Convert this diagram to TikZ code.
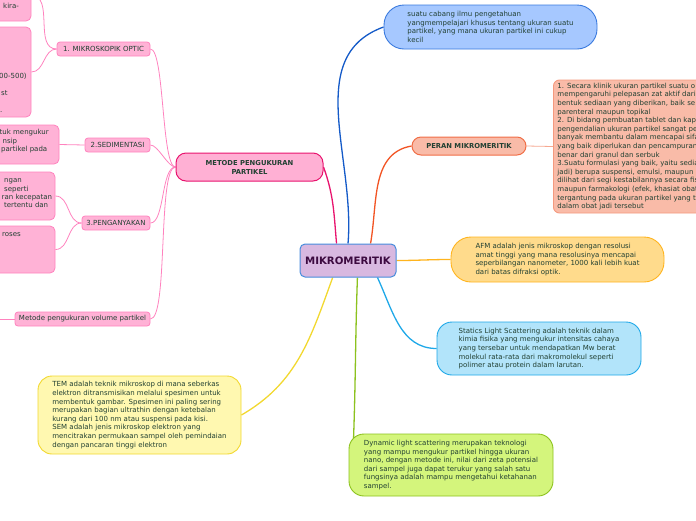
\documentclass[tikz,border=0pt]{standalone}
\usepackage{fontspec}
\setmainfont{DejaVu Sans}
\usepackage{tikz}
\usetikzlibrary{backgrounds,calc}
\definecolor{inkgreen}{RGB}{33,64,50}
\definecolor{mikfill}{RGB}{216,184,224}
\definecolor{mikedge}{RGB}{70,140,220}
\definecolor{mikink}{RGB}{60,10,64}
\definecolor{metodefill}{RGB}{255,176,212}
\definecolor{metodeedge}{RGB}{232,20,110}
\definecolor{pinkfill}{RGB}{255,178,214}
\definecolor{pinkedge}{RGB}{255,130,190}
\definecolor{bluefill}{RGB}{166,200,255}
\definecolor{blueedge}{RGB}{58,122,222}
\definecolor{blueline}{RGB}{20,90,200}
\definecolor{peranfill}{RGB}{249,187,168}
\definecolor{peranedge}{RGB}{240,110,70}
\definecolor{peranline}{RGB}{242,84,36}
\definecolor{afmfill}{RGB}{255,219,140}
\definecolor{afmedge}{RGB}{255,180,30}
\definecolor{slsfill}{RGB}{178,228,250}
\definecolor{slsedge}{RGB}{30,168,232}
\definecolor{dlsfill}{RGB}{212,245,124}
\definecolor{dlsedge}{RGB}{140,194,30}
\definecolor{temfill}{RGB}{255,248,176}
\definecolor{temedge}{RGB}{242,216,48}

\begin{document}
\begin{tikzpicture}[x=1pt, y=1pt,
    every node/.style={font=\fontsize{7}{8.6}\selectfont, text=inkgreen},
    pinkbox/.style={draw=pinkedge, fill=pinkfill, line width=0.8pt, rounded corners=3pt, inner sep=0pt},
    leafbox/.style={pinkbox, rounded corners=5pt},
    notebox/.style={line width=0.9pt, align=left, inner sep=2pt},
    cut/.style={anchor=base west, inner sep=0pt},
    twig/.style={draw=pinkedge, line width=0.8pt},
    branch/.style={line width=1.3pt}]
    \useasboundingbox (0,0) rectangle (696,-520);
    \clip (0,0) rectangle (696,-520);

    % centre
    \node[draw=mikedge, fill=mikfill, line width=1pt, rounded corners=5pt, minimum width=96pt, minimum height=33pt,
          font=\bfseries\fontsize{10.2}{12}\selectfont, text=mikink] (mik) at (348,-260.5) {MIKROMERITIK};

    % metode branch
    \node[draw=metodeedge, fill=metodefill, line width=1pt, rounded corners=10pt, minimum width=147pt, minimum height=28pt,
          align=center, font=\bfseries\fontsize{6.8}{9}\selectfont] (metode) at (249.5,-167) {METODE PENGUKURAN\\PARTIKEL};
    \node[pinkbox, minimum width=93pt, minimum height=14pt] (optic) at (103.5,-49) {1. MIKROSKOPIK OPTIC};
    \node[pinkbox, minimum width=65pt, minimum height=14pt] (sedimentasi) at (117.5,-145) {2.SEDIMENTASI};
    \node[pinkbox, minimum width=68pt, minimum height=14pt] (penganyakan) at (116,-223) {3.PENGANYAKAN};
    \node[pinkbox, minimum width=135pt, minimum height=14pt] (volume) at (82.5,-319) {Metode pengukuran volume partikel};

    % leaves cut by the left edge
    \node[leafbox, minimum width=71pt, minimum height=51pt] (boxA) at (-4.5,4.5) {};
    \node[leafbox, minimum width=71pt, minimum height=90pt] (boxB) at (-4.5,-72) {};
    \node[leafbox, minimum width=99pt, minimum height=39pt] (boxC) at (9.5,-144.5) {};
    \node[leafbox, minimum width=95pt, minimum height=48pt] (boxD) at (7.5,-196) {};
    \node[leafbox, minimum width=95pt, minimum height=47pt] (boxE) at (7.5,-249.5) {};
    \node[cut] (textA) at (3,-8) {kira-};
    \node[cut] (textB1) at (-1,-78.5) {00-500)};
    \node[cut] (textB2) at (1,-95.5) {st};
    \node[cut] (textB3) at (0,-112) {.};
    \node[cut] (textC1) at (-0.5,-134.5) {tuk mengukur};
    \node[cut] (textC2) at (2.5,-143.5) {nsip};
    \node[cut] (textC3) at (1,-151.5) {partikel pada};
    \node[cut] (textD1) at (4,-182.5) {ngan};
    \node[cut] (textD2) at (4,-191.5) {seperti};
    \node[cut] (textD3) at (1.5,-199.5) {ran kecepatan};
    \node[cut] (textD4) at (4,-207.5) {tertentu dan};
    \node[cut] (textE1) at (2,-236.5) {roses};
    \coordinate (volumeend) at (-10,-319);

    % other branches
    \node[notebox, draw=blueedge, fill=bluefill, rounded corners=20pt, minimum width=213pt, minimum height=44pt] (ilmu) at (490.5,-27) {
        suatu cabang ilmu pengetahuan\\
        yangmempelajari khusus tentang ukuran suatu\\
        partikel, yang mana ukuran partikel ini cukup\\
        kecil};
    \node[draw=peranedge, fill=peranfill, line width=1pt, rounded corners=9pt, minimum width=114pt, minimum height=18pt,
          font=\bfseries\fontsize{6.8}{8}\selectfont] (peran) at (469,-146) {PERAN MIKROMERITIK};
    \node[notebox, draw=peranedge!70, fill=peranfill, rounded corners=6pt, anchor=west, minimum height=133pt, inner xsep=4pt] (peranbox) at (553,-146.5) {
        1. Secara klinik ukuran partikel suatu o\\
        mempengaruhi pelepasan zat aktif dari\\
        bentuk sediaan yang diberikan, baik se\\
        parenteral maupun topikal\\
        2. Di bidang pembuatan tablet dan kaps\\
        pengendalian ukuran partikel sangat pe\\
        banyak membantu dalam mencapai sifa\\
        yang baik diperlukan dan pencampuran\\
        benar dari granul dan serbuk\\
        3.Suatu formulasi yang baik, yaitu sedia\\
        jadi) berupa suspensi, emulsi, maupun\\
        dilihat dari segi kestabilannya secara fis\\
        maupun farmakologi (efek, khasiat obat\\
        tergantung pada ukuran partikel yang t\\
        dalam obat jadi tersebut};
    \node[notebox, draw=afmedge, fill=afmfill, rounded corners=20pt, minimum width=213pt, minimum height=45pt] (afm) at (557.5,-259.5) {
        AFM adalah jenis mikroskop dengan resolusi\\
        amat tinggi yang mana resolusinya mencapai\\
        seperbilangan nanometer, 1000 kali lebih kuat\\
        dari batas difraksi optik.};
    \node[notebox, draw=slsedge, fill=slsfill, rounded corners=15pt, minimum width=204pt, minimum height=53pt] (sls) at (539,-348.5) {
        Statics Light Scattering adalah teknik dalam\\
        kimia fisika yang mengukur intensitas cahaya\\
        yang tersebar untuk mendapatkan Mw berat\\
        molekul rata-rata dari makromolekul seperti\\
        polimer atau protein dalam larutan.};
    \node[notebox, draw=dlsedge, fill=dlsfill, rounded corners=15pt, minimum width=204pt, minimum height=62pt] (dls) at (451,-465) {
        Dynamic light scattering merupakan teknologi\\
        yang mampu mengukur partikel hingga ukuran\\
        nano, dengan metode ini, nilai dari zeta potensial\\
        dari sampel juga dapat terukur yang salah satu\\
        fungsinya adalah mampu mengetahui ketahanan\\
        sampel.};
    \node[notebox, draw=temedge, fill=temfill, rounded corners=14pt, minimum width=203pt, minimum height=78pt] (tem) at (139.5,-415) {
        TEM adalah teknik mikroskop di mana seberkas\\
        elektron ditransmisikan melalui spesimen untuk\\
        membentuk gambar. Spesimen ini paling sering\\
        merupakan bagian ultrathin dengan ketebalan\\
        kurang dari 100 nm atau suspensi pada kisi.\\
        SEM adalah jenis mikroskop elektron yang\\
        mencitrakan permukaan sampel oleh pemindaian\\
        dengan pancaran tinggi elektron};

    % connectors
    \begin{scope}[on background layer]
        \draw[branch, metodeedge] (mik.124) to[out=95, in=-70] (metode.east);
        \draw[branch, blueline] (mik.90) to[out=85, in=200] (ilmu.west);
        \draw[branch, peranline] (mik.37) to[out=80, in=190] (peran.west);
        \draw[branch, afmedge] (mik.east) to[out=0, in=180] (afm.west);
        \draw[branch, slsedge] (mik.-30) to[out=-65, in=180] (sls.west);
        \draw[branch, dlsedge] (mik.-61) to[out=-92, in=88] ($(dls.north west)+(5,-5)$);
        \draw[branch, temedge] (mik.-132) to[out=-110, in=30] (tem.east);
        \draw[peranedge!60, line width=0.8pt] (peran.east) -- (peranbox.west);

        \draw[twig] (metode.west) to[out=180, in=0, looseness=0.3] (optic.east);
        \draw[twig] (metode.west) to[out=180, in=0, looseness=0.6] (sedimentasi.east);
        \draw[twig] (metode.west) to[out=180, in=0, looseness=0.6] (penganyakan.east);
        \draw[twig] (metode.west) to[out=180, in=0, looseness=0.3] (volume.east);
        \draw[twig] (optic.west) to[out=180, in=0] (boxA.east);
        \draw[twig] (optic.west) to[out=180, in=0] (boxB.east);
        \draw[twig] (sedimentasi.west) -- (boxC.east);
        \draw[twig] (penganyakan.west) to[out=180, in=0] (boxD.east);
        \draw[twig] (penganyakan.west) to[out=180, in=0] (boxE.east);
        \draw[twig] (volume.west) -- (volumeend);
    \end{scope}
\end{tikzpicture}
\end{document}
